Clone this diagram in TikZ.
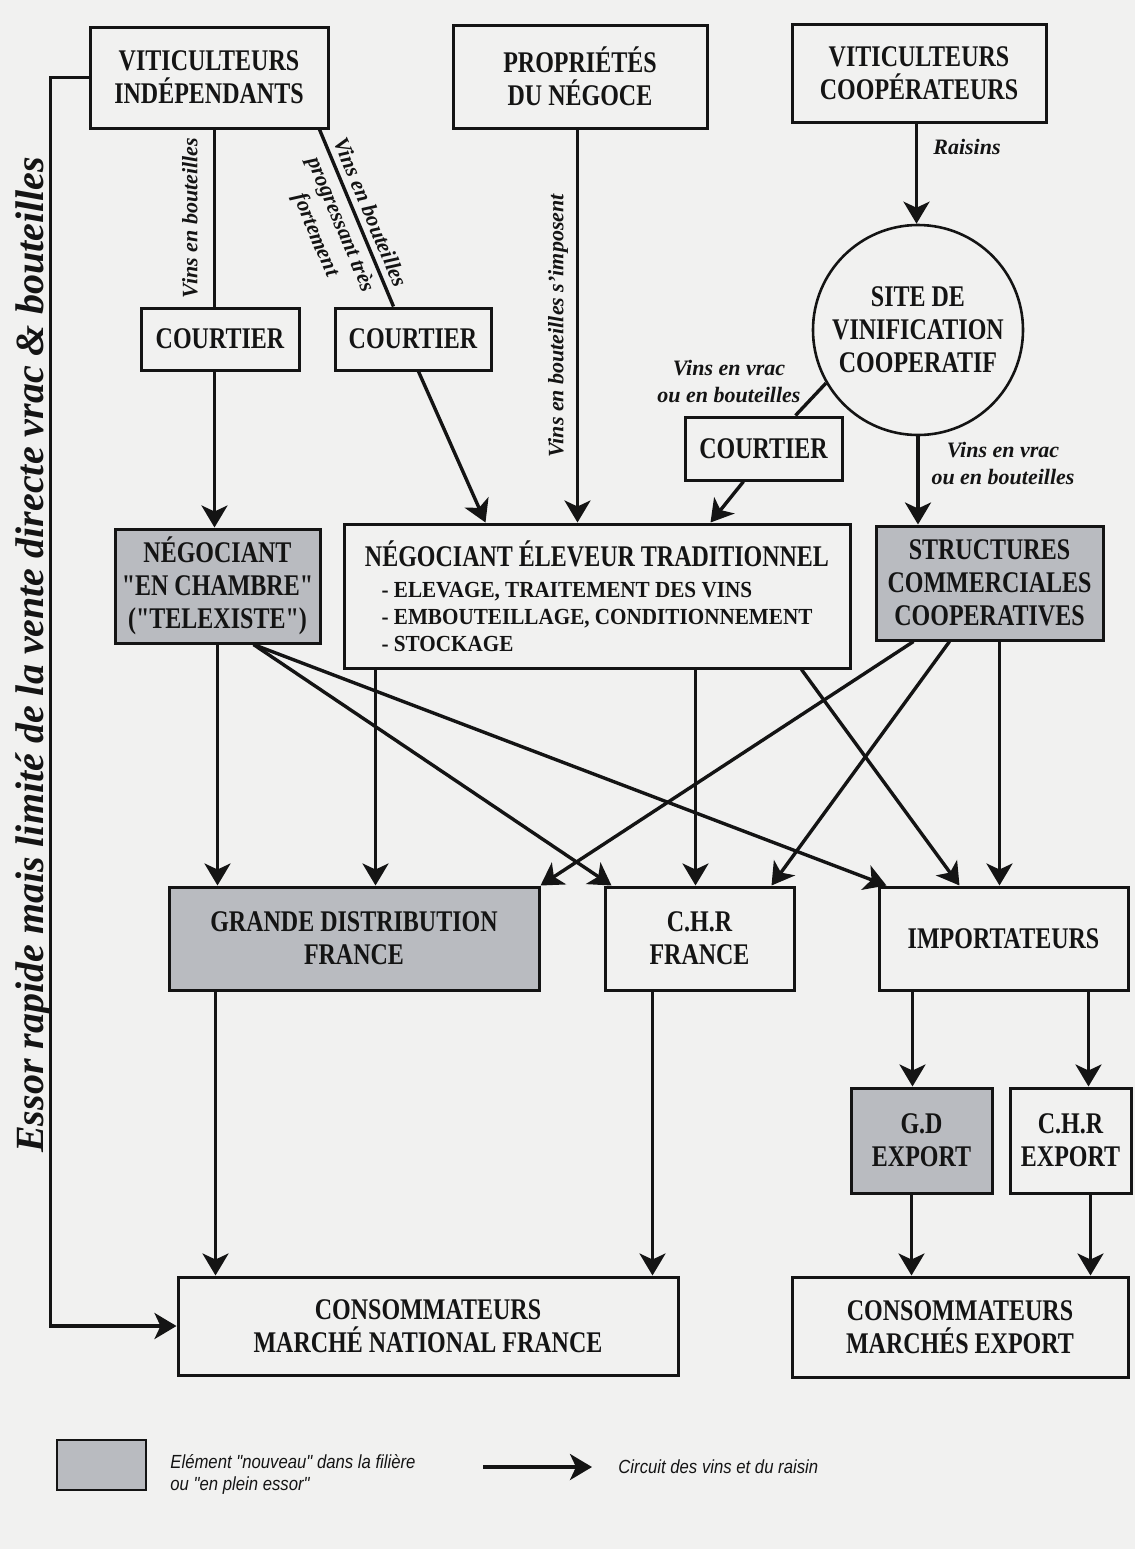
\documentclass[tikz,border=0pt]{standalone}
\usepackage{fontspec}
\setmainfont{Liberation Serif}
\newfontfamily\boxfont{Liberation Serif}[FakeStretch=0.8]
\newfontfamily\listfont{Liberation Serif}[FakeStretch=0.92]
\newfontfamily\legfont{Liberation Sans}[FakeStretch=0.88]
\usetikzlibrary{arrows.meta,calc,positioning}
\definecolor{paper}{HTML}{F1F1F0}
\definecolor{newcol}{HTML}{B9BBC0}
\definecolor{inkcol}{HTML}{141414}

\tikzset{
  box/.style={draw=inkcol, line width=1.5pt, fill=paper, inner sep=0pt, align=center,
    text=inkcol, font=\boxfont\bfseries\fontsize{15}{16.5}\selectfont},
  newbox/.style={box, fill=newcol},
  disc/.style={box, circle, line width=1.3pt},
  flow/.style={draw=inkcol, line width=1.7pt, -{Stealth[length=11pt,width=13pt,inset=3pt]}},
  link/.style={draw=inkcol, line width=1.7pt},
  lab/.style={text=inkcol, align=center, inner sep=1.5pt,
    font=\bfseries\itshape\fontsize{11}{13.5}\selectfont},
  legtext/.style={text=inkcol, align=left, inner sep=0pt,
    font=\legfont\itshape\fontsize{9.5}{11}\selectfont},
}

\begin{document}
\begin{tikzpicture}[x=0.5pt,y=-0.5pt]
\fill[paper] (0,0) rectangle (1135,1549);

% producteurs
\node[box, minimum width=119pt, minimum height=50.5pt] (vi) at (209,77.5) {VITICULTEURS\\INDÉPENDANTS};
\node[box, minimum width=127pt, minimum height=51.5pt] (pn) at (580,76.5) {PROPRIÉTÉS\\DU NÉGOCE};
\node[box, minimum width=127pt, minimum height=49pt] (vc) at (919,73) {VITICULTEURS\\COOPÉRATEURS};
\node[disc, minimum size=105pt] (svc) at (918,330) {SITE DE\\VINIFICATION\\COOPERATIF};

% courtiers
\node[box, minimum width=79pt, minimum height=31pt] (co1) at (220,339) {COURTIER};
\node[box, minimum width=78pt, minimum height=31pt] (co2) at (413,339) {COURTIER};
\node[box, minimum width=78.5pt, minimum height=31.5pt] (co3) at (763.5,448.5) {COURTIER};

% negoce
\node[newbox, minimum width=102.5pt, minimum height=57pt] (nec) at (217.5,586) {NÉGOCIANT\\"EN CHAMBRE"\\("TELEXISTE")};
\node[box, minimum width=253pt, minimum height=72pt] (net) at (597,596) {\rule{0pt}{17pt}NÉGOCIANT ÉLEVEUR TRADITIONNEL\\[5pt]
  {\listfont\fontsize{11.5}{13.5}\selectfont\begin{tabular}{@{}l@{}}- ELEVAGE, TRAITEMENT DES VINS\\- EMBOUTEILLAGE, CONDITIONNEMENT\\- STOCKAGE\end{tabular}}};
\node[newbox, minimum width=113.5pt, minimum height=57pt] (scc) at (989.5,583) {STRUCTURES\\COMMERCIALES\\COOPERATIVES};

% distribution
\node[newbox, minimum width=185pt, minimum height=51.5pt] (gdf) at (354,938.5) {GRANDE DISTRIBUTION\\FRANCE};
\node[box, minimum width=94.5pt, minimum height=51.5pt] (chrf) at (699.5,938.5) {C.H.R\\FRANCE};
\node[box, minimum width=124.5pt, minimum height=51.5pt] (imp) at (1003.5,938.5) {IMPORTATEURS};
\node[newbox, minimum width=70.5pt, minimum height=52.5pt] (gde) at (921.5,1140.5) {G.D\\EXPORT};
\node[box, minimum width=60.5pt, minimum height=52.5pt] (chre) at (1070.5,1140.5) {C.H.R\\EXPORT};

% consommateurs
\node[box, minimum width=250pt, minimum height=49pt] (cmf) at (428,1326) {CONSOMMATEURS\\MARCHÉ NATIONAL FRANCE};
\node[box, minimum width=168pt, minimum height=50pt] (cme) at (960,1327) {CONSOMMATEURS\\MARCHÉS EXPORT};

% liens sans fleche
\coordinate (s) at ($(co1.north west)+(75,0)$);
\draw[link] (s) -- (s |- vi.south);
\draw[link] ($(vi.south east)+(-10,0)$) -- ($(co2.north west)+(60,0)$)
  node[lab, midway, sloped, above, inner sep=3pt] (lb2) {Vins en bouteilles}
  node[lab, midway, sloped, below, inner sep=3pt] (lb3) {progressant très\\fortement};
\draw[link] (svc.210) -- ($(co3.north west)+(112,0)$);

% fleches verticales
\foreach \a/\dx/\b in {co1/75/nec, pn/126/net, vc/126/svc, nec/104/gdf, net/33/gdf, net/353/chrf,
  scc/125/imp, imp/35/gde, imp/211/chre, gdf/48/cmf, chrf/49/cmf, gde/62/cme, chre/82/cme}{
  \coordinate (s) at ($(\a.south west)+(\dx,0)$);
  \draw[flow] (s) -- (s |- \b.north);
}
\draw[flow] (svc.south) -- (svc.south |- scc.north);

% fleches obliques
\foreach \a/\dx/\b/\dy in {co2/85/net/143, co3/60/net/368, nec/140/chrf/8, nec/140/imp/9,
  net/459/imp/82, scc/39/gdf/373, scc/75/chrf/168}{
  \draw[flow] ($(\a.south west)+(\dx,0)$) -- ($(\b.north west)+(\dy,0)$);
}

% vente directe
\draw[flow] (vi.west) -- ++(-38,0) |- (cmf.west);

% etiquettes
\node[lab, rotate=90] (lb1) at (190,218) {Vins en bouteilles};
\node[lab, rotate=90] (lb4) at (558,326) {Vins en bouteilles s'imposent};
\node[lab] (lb5) at (967,147) {Raisins};
\node[lab] (lb6) at (729,381) {Vins en vrac\\ou en bouteilles};
\node[lab] (lb7) at (1003,463) {Vins en vrac\\ou en bouteilles};
\node[text=inkcol, rotate=90, font=\bfseries\itshape\fontsize{20}{22}\selectfont] (essor) at (34,655)
  {Essor rapide mais limité de la vente directe vrac \& bouteilles};

% legende
\node[newbox, minimum width=44.5pt, minimum height=25pt, line width=1.2pt] (leg1) at (101.5,1465) {};
\node[legtext, anchor=west] (leg1t) at (170,1474) {Elément "nouveau" dans la filière\\ou "en plein essor"};
\coordinate (la) at (483,1467);
\coordinate (lb) at (592,1467);
\draw[flow] (la) -- (lb);
\node[legtext, anchor=west] (leg2t) at (618,1467) {Circuit des vins et du raisin};
\end{tikzpicture}
\end{document}
